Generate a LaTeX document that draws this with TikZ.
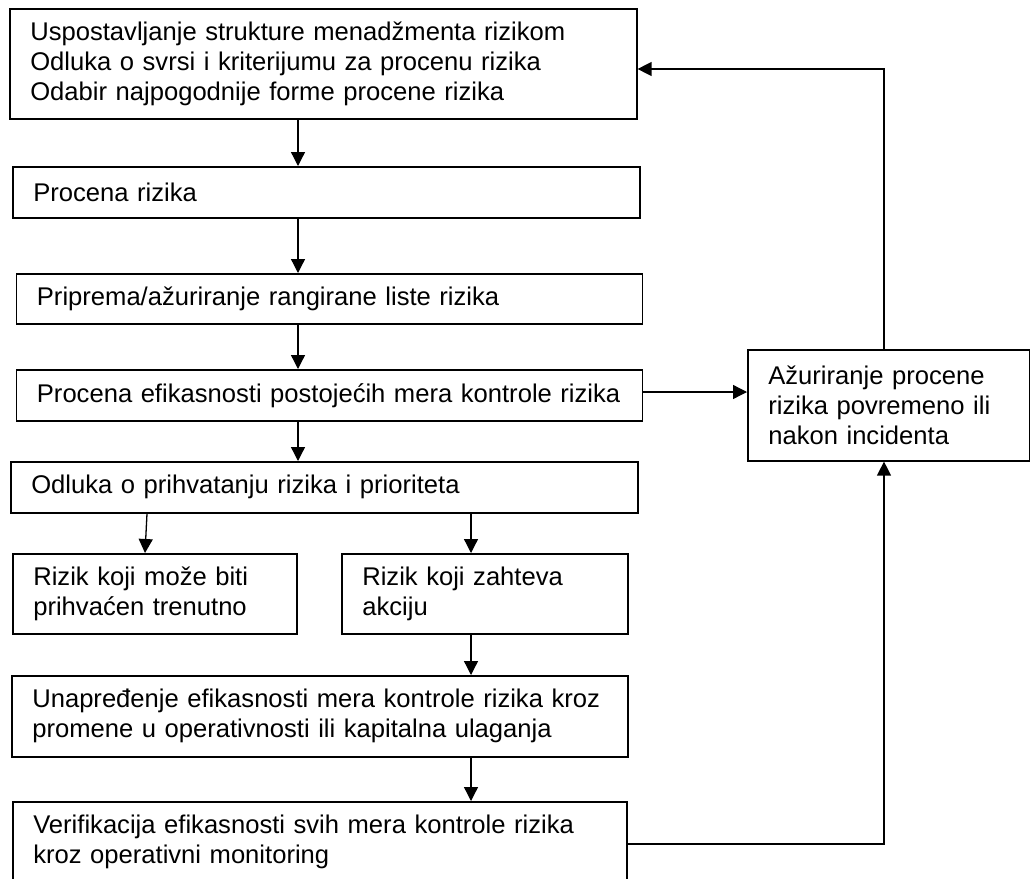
\documentclass[tikz,border=0pt]{standalone}
\usepackage{fontspec}
\setmainfont{Liberation Sans}
\usetikzlibrary{arrows.meta}
\newcommand{\oneline}[1]{\mbox{#1}}
\begin{document}
\begin{tikzpicture}[x=1pt,y=-1pt,
  box/.style={draw, line width=1.6pt, inner xsep=20.5pt, inner ysep=0pt, align=left,
    anchor=north west, font=\fontsize{25.6pt}{30pt}\selectfont},
  arr/.style={line width=1.3pt, -{Triangle[length=14pt,width=14pt]}}]
\useasboundingbox (0,0) rectangle (1030,878);
\node[box, text width=586pt, minimum height=110pt] (b1) at (9,8)
  {\oneline{Uspostavljanje strukture menadžmenta rizikom}\\\oneline{Odluka o svrsi i kriterijumu za procenu rizika}\\\oneline{Odabir najpogodnije forme procene rizika}};
\node[box, text width=586pt, minimum height=51pt] (b2) at (12,166) {\oneline{Procena rizika}};
\node[box, text width=585pt, minimum height=50pt] (b3) at (15.6,273) {\oneline{Priprema/ažuriranje rangirane liste rizika}};
\node[box, text width=585pt, minimum height=51pt] (b4) at (15.6,369) {\oneline{Procena efikasnosti postojećih mera kontrole rizika}};
\node[box, text width=586pt, minimum height=51pt] (b5) at (10,461) {\oneline{Odluka o prihvatanju rizika i prioriteta}};
\node[box, text width=243pt, minimum height=80pt] (b6) at (12,553) {\oneline{Rizik koji može biti}\\\oneline{prihvaćen trenutno}};
\node[box, text width=245pt, minimum height=80pt] (b7) at (341,553) {\oneline{Rizik koji zahteva}\\\oneline{akciju}};
\node[box, text width=575pt, minimum height=81pt] (b8) at (11,675) {\oneline{Unapređenje efikasnosti mera kontrole rizika kroz}\\\oneline{promene u operativnosti ili kapitalna ulaganja}};
\node[box, text width=573pt, minimum height=80pt] (b9) at (12,801) {\oneline{Verifikacija efikasnosti svih mera kontrole rizika}\\\oneline{kroz operativni monitoring}};
\node[box, text width=241pt, minimum height=111pt] (r) at (747,349) {\oneline{Ažuriranje procene}\\\oneline{rizika povremeno ili}\\\oneline{nakon incidenta}};
\coordinate (xa) at (298,0);
\coordinate (xl1) at (147,0);
\coordinate (xl2) at (145,0);
\coordinate (xm) at (471,0);
\coordinate (xr) at (884,0);
\coordinate (y1) at (0,69);
\coordinate (y4) at (0,392);
\coordinate (y9) at (0,844);
\draw[arr] (b1.south -| xa) -- (b2.north -| xa);
\draw[arr] (b2.south -| xa) -- (b3.north -| xa);
\draw[arr] (b3.south -| xa) -- (b4.north -| xa);
\draw[arr] (b4.south -| xa) -- (b5.north -| xa);
\draw[arr] (b5.south -| xl1) -- (b6.north -| xl2);
\draw[arr] (b5.south -| xm) -- (b7.north -| xm);
\draw[arr] (b7.south -| xm) -- (b8.north -| xm);
\draw[arr] (b8.south -| xm) -- (b9.north -| xm);
\draw[arr] (b4.east |- y4) -- (r.west |- y4);
\draw[arr] (b9.east |- y9) -| (r.south -| xr);
\draw[arr] (r.north -| xr) |- (b1.east |- y1);
\end{tikzpicture}
\end{document}
